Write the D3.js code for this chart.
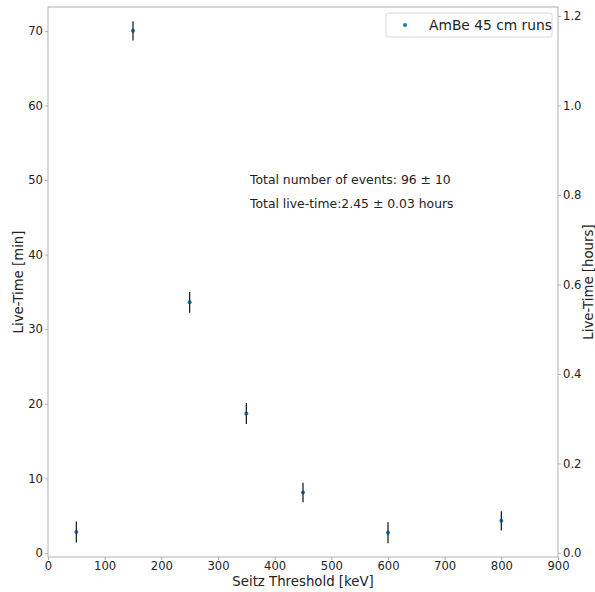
<!DOCTYPE html>
<html>
<head>
<meta charset="utf-8">
<script src="https://d3js.org/d3.v7.min.js"></script>
<style>
  html, body { margin: 0; padding: 0; background: #fff; }
  svg text { font-family: "DejaVu Sans", sans-serif; fill: #222; }
  .axis path, .axis line { stroke: #b0b0b0; }
  .axis text { font-size: 11.6px; fill: #222; }
  .label { font-size: 13.3px; }
</style>
</head>
<body>
<div id="chart"></div>
<script>
// threshold [keV] and live-time [min] with errors
var thresholds = [50, 150, 250, 350, 450, 600, 800];
var liveTime = [2.8, 70.0, 33.6, 18.7, 8.1, 2.7, 4.3];
var liveErr = [1.4, 1.3, 1.4, 1.4, 1.3, 1.4, 1.3];
var xTicks = [0, 100, 200, 300, 400, 500, 600, 700, 800, 900];
var yTicks = [0, 10, 20, 30, 40, 50, 60, 70];
var hourTicks = [0.0, 0.2, 0.4, 0.6, 0.8, 1.0, 1.2];
var legendLabel = "AmBe 45 cm runs";
var notes = ["Total number of events: 96 \u00b1 10", "Total live-time:2.45 \u00b1 0.03 hours"];

var W = 595, H = 592;
var margin = {top: 7, right: 37, bottom: 35, left: 48};
var width = W - margin.left - margin.right,
    height = H - margin.top - margin.bottom;

var x = d3.scaleLinear().domain([0, 900]).range([0, width]);
var y = d3.scaleLinear().domain([-0.55, 73.2]).range([height, 0]);
var yh = d3.scaleLinear().domain([-0.55 / 60, 73.2 / 60]).range([height, 0]);

var svg = d3.select("#chart").append("svg")
    .attr("width", W).attr("height", H)
  .append("g")
    .attr("transform", "translate(" + margin.left + "," + margin.top + ")");

svg.append("rect")
    .attr("width", width).attr("height", height)
    .attr("fill", "none").attr("stroke", "#b0b0b0");

svg.append("g")
    .attr("class", "x axis")
    .attr("transform", "translate(0," + height + ")")
    .call(d3.axisBottom(x).tickValues(xTicks).tickSize(3).tickPadding(2).tickFormat(d3.format("d")))
    .call(function(g) { g.select(".domain").remove(); });

svg.append("g")
    .attr("class", "y axis")
    .call(d3.axisLeft(y).tickValues(yTicks).tickSize(3).tickPadding(2).tickFormat(d3.format("d")))
    .call(function(g) { g.select(".domain").remove(); });

svg.append("g")
    .attr("class", "y2 axis")
    .attr("transform", "translate(" + width + ",0)")
    .call(d3.axisRight(yh).tickValues(hourTicks).tickSize(3).tickPadding(2).tickFormat(d3.format(".1f")))
    .call(function(g) { g.select(".domain").remove(); });

svg.selectAll(".axis text").attr("font-family", "DejaVu Sans, sans-serif");

// labels
svg.append("text")
    .attr("class", "label")
    .attr("text-anchor", "middle")
    .attr("x", width / 2)
    .attr("y", height + 29)
    .text("Seitz Threshold [keV]");

svg.append("text")
    .attr("class", "label")
    .attr("text-anchor", "middle")
    .attr("transform", "translate(" + (-25) + "," + (height / 2) + ") rotate(-90)")
    .text("Live-Time [min]");

svg.append("text")
    .attr("class", "label")
    .attr("text-anchor", "middle")
    .attr("transform", "translate(" + (width + 35) + "," + (height / 2) + ") rotate(-90)")
    .text("Live-Time [hours]");

// error bars
var pts = thresholds.map(function(t, i) { return {t: t, v: liveTime[i], e: liveErr[i]}; });

svg.selectAll(".err")
    .data(pts)
  .enter().append("line")
    .attr("class", "err")
    .attr("x1", function(d) { return x(d.t); })
    .attr("x2", function(d) { return x(d.t); })
    .attr("y1", function(d) { return y(d.v - d.e); })
    .attr("y2", function(d) { return y(d.v + d.e); })
    .attr("stroke", "#111")
    .attr("stroke-width", 1.2);

svg.selectAll(".dot")
    .data(pts)
  .enter().append("circle")
    .attr("class", "dot")
    .attr("cx", function(d) { return x(d.t); })
    .attr("cy", function(d) { return y(d.v); })
    .attr("r", 2)
    .attr("fill", "#1f77b4");

svg.selectAll(".dotc")
    .data(pts)
  .enter().append("line")
    .attr("x1", function(d) { return x(d.t); })
    .attr("x2", function(d) { return x(d.t); })
    .attr("y1", function(d) { return y(d.v) - 2; })
    .attr("y2", function(d) { return y(d.v) + 2; })
    .attr("stroke", "#0b2a45")
    .attr("stroke-width", 1);

// annotation
svg.selectAll(".note")
    .data(notes)
  .enter().append("text")
    .attr("class", "note")
    .attr("x", 202)
    .attr("y", function(d, i) { return 177 + i * 24; })
    .attr("font-size", "12.4px")
    .text(function(d) { return d; });

// legend
var leg = svg.append("g").attr("transform", "translate(" + (width - 172) + ",6)");
leg.append("rect")
    .attr("width", 166).attr("height", 24).attr("rx", 2)
    .attr("fill", "#fff").attr("stroke", "#d8d8d8");
leg.append("circle")
    .attr("cx", 19).attr("cy", 12).attr("r", 2)
    .attr("fill", "#1f77b4");
leg.append("text")
    .attr("x", 43).attr("y", 17)
    .attr("font-size", "13.8px")
    .text(legendLabel);
</script>
</body>
</html>
